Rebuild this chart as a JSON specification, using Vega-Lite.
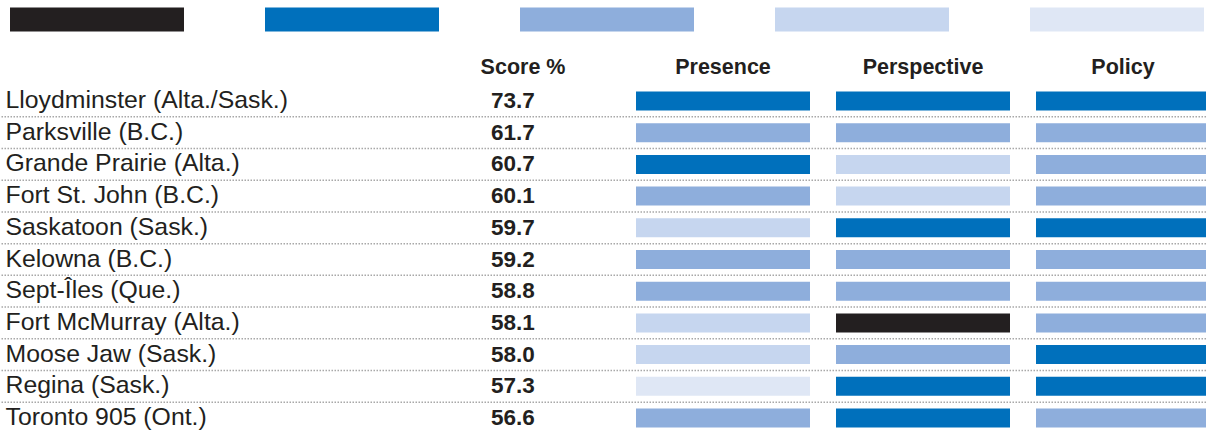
{
  "$schema": "https://vega.github.io/schema/vega-lite/v6.json",
  "width": 1206,
  "height": 431,
  "autosize": {"type": "none"},
  "padding": 0,
  "background": "white",
  "config": {"view": {"stroke": null}},
  "data": {
    "values": [
      {"city": "Lloydminster (Alta./Sask.)", "score": 73.7, "Presence": "Level 2", "Perspective": "Level 2", "Policy": "Level 2"},
      {"city": "Parksville (B.C.)", "score": 61.7, "Presence": "Level 3", "Perspective": "Level 3", "Policy": "Level 3"},
      {"city": "Grande Prairie (Alta.)", "score": 60.7, "Presence": "Level 2", "Perspective": "Level 4", "Policy": "Level 3"},
      {"city": "Fort St. John (B.C.)", "score": 60.1, "Presence": "Level 3", "Perspective": "Level 4", "Policy": "Level 3"},
      {"city": "Saskatoon (Sask.)", "score": 59.7, "Presence": "Level 4", "Perspective": "Level 2", "Policy": "Level 2"},
      {"city": "Kelowna (B.C.)", "score": 59.2, "Presence": "Level 3", "Perspective": "Level 3", "Policy": "Level 3"},
      {"city": "Sept-Îles (Que.)", "score": 58.8, "Presence": "Level 3", "Perspective": "Level 3", "Policy": "Level 3"},
      {"city": "Fort McMurray (Alta.)", "score": 58.1, "Presence": "Level 4", "Perspective": "Level 1", "Policy": "Level 3"},
      {"city": "Moose Jaw (Sask.)", "score": 58.0, "Presence": "Level 4", "Perspective": "Level 3", "Policy": "Level 2"},
      {"city": "Regina (Sask.)", "score": 57.3, "Presence": "Level 5", "Perspective": "Level 2", "Policy": "Level 2"},
      {"city": "Toronto 905 (Ont.)", "score": 56.6, "Presence": "Level 3", "Perspective": "Level 2", "Policy": "Level 3"}
    ]
  },
  "layer": [
    {
      "mark": {"type": "rule", "color": "#a8a8a8", "strokeWidth": 1.5, "strokeDash": [1.5, 1.5]},
      "encoding": {
        "y": {
          "field": "city", "type": "nominal", "sort": null, "bandPosition": 1,
          "scale": {
            "type": "band",
            "domain": ["Lloydminster (Alta./Sask.)", "Parksville (B.C.)", "Grande Prairie (Alta.)", "Fort St. John (B.C.)", "Saskatoon (Sask.)", "Kelowna (B.C.)", "Sept-Îles (Que.)", "Fort McMurray (Alta.)", "Moose Jaw (Sask.)", "Regina (Sask.)", "Toronto 905 (Ont.)"],
            "range": [85.15, 433.85],
            "paddingInner": 0,
            "paddingOuter": 0
          }
        }
      }
    },
    {
      "transform": [{"fold": ["Presence", "Perspective", "Policy"], "as": ["measure", "level"]}],
      "mark": {"type": "bar", "height": 19},
      "encoding": {
        "x": {
          "field": "measure", "type": "nominal",
          "scale": {"type": "band", "domain": ["Score %", "Presence", "Perspective", "Policy"], "range": [436, 1210], "paddingInner": 0.13, "paddingOuter": 0},
          "axis": {
            "orient": "top", "offset": -75, "title": null, "domain": false, "ticks": false, "tickSize": 0, "grid": false,
            "labelPadding": 2, "labelBaseline": "alphabetic", "labelAngle": 0,
            "labelFont": "Liberation Sans", "labelFontWeight": "bold", "labelFontSize": 21.5, "labelColor": "#231f20", "labelLimit": 400
          }
        },
        "y": {
          "field": "city", "type": "nominal", "sort": null,
          "axis": {
            "orient": "left", "title": null, "domain": false, "ticks": false, "tickSize": 0, "grid": false,
            "labelPadding": -5, "labelAlign": "left", "labelBaseline": "middle",
            "labelFont": "Liberation Sans", "labelFontSize": 24.8, "labelColor": "#231f20", "labelLimit": 600
          }
        },
        "color": {
          "field": "level", "type": "nominal",
          "scale": {
            "domain": ["Level 1", "Level 2", "Level 3", "Level 4", "Level 5"],
            "range": ["#231f20", "#0070bc", "#8eaedc", "#c6d6ef", "#dfe7f5"]
          },
          "legend": {
            "orient": "none", "legendX": 10, "legendY": -68, "direction": "horizontal", "columns": 5,
            "title": null, "symbolType": "M-1,-0.138H1V0.138H-1Z", "symbolSize": 30276, "symbolStrokeWidth": 0,
            "labelExpr": "''", "labelOffset": 0, "columnPadding": 81, "padding": 0, "offset": 0, "symbolOpacity": 1
          }
        }
      }
    },
    {
      "mark": {"type": "text", "align": "left", "baseline": "middle", "dx": -32, "font": "Liberation Sans", "fontWeight": "bold", "fontSize": 22.5, "color": "#231f20"},
      "encoding": {
        "x": {"datum": "Score %", "type": "nominal"},
        "y": {"field": "city", "type": "nominal", "sort": null},
        "text": {"field": "score", "type": "quantitative", "format": ".1f"}
      }
    }
  ]
}
